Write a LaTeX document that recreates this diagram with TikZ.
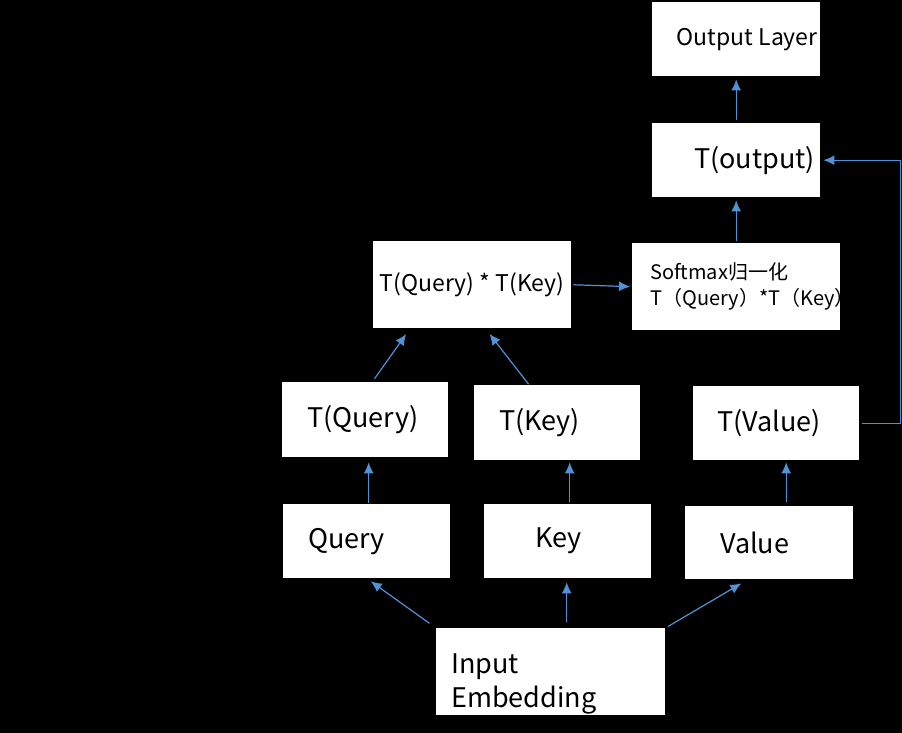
\documentclass[tikz,border=0pt]{standalone}
\usepackage{fontspec}
\setmainfont{Noto Sans CJK SC}
\usetikzlibrary{arrows.meta}

\tikzset{
  blk/.style={fill=white,text=black,inner ysep=0pt,align=left,anchor=north west,
    font=\fontsize{27}{34}\selectfont},
  arr/.style={draw=arrowColor,line width=1.2pt,-{Latex[length=11pt,width=10pt]}}
}

\begin{document}
\begin{tikzpicture}[x=1pt,y=-1pt]
\definecolor{arrowColor}{RGB}{80,146,214}
\path[use as bounding box,fill=black] (0,0) rectangle (902,733);

% boxes
\node[blk,inner xsep=0pt,minimum width=168pt,minimum height=74pt,align=center,
  font=\fontsize{23}{28}\selectfont] (outl) at (652,2) {\raisebox{5pt}{\hspace*{22pt}Output Layer}};
\node[blk,inner xsep=42pt,text width=84pt,minimum height=74pt] (tout) at (652,123) {T(output)};
\node[blk,inner xsep=18pt,text width=172pt,minimum height=87pt,
  font=\fontsize{20}{26}\selectfont] (sm) at (632,243) {Softmax归一化\\\mbox{T（Query）*T（Key）}};
\node[blk,inner xsep=0pt,minimum width=198pt,minimum height=87pt,align=center,
  font=\fontsize{23}{30}\selectfont] (qk) at (373,241) {T(Query) * T(Key)};
\node[blk,inner xsep=25pt,text width=116pt,minimum height=75pt] (tq) at (282,382) {T(Query)};
\node[blk,inner xsep=25pt,text width=116pt,minimum height=75pt] (tk) at (474,385) {T(Key)};
\node[blk,inner xsep=24pt,text width=118pt,minimum height=74pt] (tv) at (693,386) {T(Value)};
\node[blk,inner xsep=25pt,text width=117pt,minimum height=74pt] (query) at (283,504) {Query};
\node[blk,inner xsep=51pt,text width=65pt,minimum height=74pt] (key) at (484,504) {Key};
\node[blk,inner xsep=35pt,text width=98pt,minimum height=73pt] (val) at (685,506) {Value};
\node[blk,inner xsep=15pt,text width=199pt,minimum height=87pt] (inp) at (436,628) {\rule{0pt}{44pt}Input\\Embedding};

% connectors
\draw[arr,shorten <=8pt,shorten >=5pt] (inp.north west) -- (query.south);
\draw[arr,shorten <=6pt,shorten >=4pt] ([xshift=16pt]inp.north) -- ([xshift=16pt]inp.north |- key.south);
\draw[arr,shorten <=3pt,shorten >=8pt] (inp.north east) -- ([xshift=-21pt]val.south);
\draw[arr,shorten <=1pt,shorten >=5pt] ([xshift=2pt]query.north) -- ([xshift=2pt]query.north |- tq.south);
\draw[arr,shorten <=2pt,shorten >=2pt] ([xshift=2pt]key.north) -- ([xshift=2pt]key.north |- tk.south);
\draw[arr,shorten <=4pt,shorten >=2pt] ([xshift=17pt]val.north) -- ([xshift=17pt]val.north |- tv.south);
\draw[arr,shorten <=4pt,shorten >=7pt] ([xshift=7pt]tq.north) -- ([xshift=-62pt]qk.south);
\draw[arr,shorten <=1pt,shorten >=7pt] ([xshift=-28pt]tk.north) -- ([xshift=13pt]qk.south);
\draw[arr,shorten <=2pt,shorten >=2pt] (qk.east) -- (sm.west);
\draw[arr,shorten <=2pt,shorten >=3pt] (sm.north) -- (tout.south);
\draw[arr,shorten <=3pt,shorten >=3pt] (tout.north) -- (outl.south);
\draw[arr,shorten <=3pt,shorten >=3pt] (tv.east) -- ++(41,0) |- (tout.east);
\end{tikzpicture}
\end{document}
